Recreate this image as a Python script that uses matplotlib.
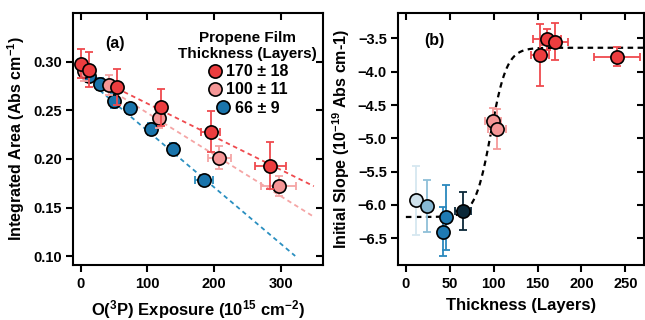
import numpy as np
import matplotlib
matplotlib.use("Agg")
import matplotlib.pyplot as plt

plt.rcParams['font.family'] = ['Liberation Sans', 'DejaVu Sans']
plt.rcParams['font.weight'] = 'bold'
plt.rcParams['mathtext.default'] = 'regular'

# panel (a): integrated area vs O(3P) exposure
red_x = [0, 12.5, 54.6, 120, 195, 284.6]
red_y = [0.298, 0.292, 0.274, 0.253, 0.228, 0.193]
red_xerr = [0, 0, 0, 3, 14, 23]
red_yerr = [0.015, 0.018, 0.019, 0.019, 0.021, 0.024]

pink_x = [4, 42, 117.7, 208, 297]
pink_y = [0.290, 0.276, 0.242, 0.2015, 0.172]
pink_xerr = [0, 4, 4, 17, 26]
pink_yerr = [0.010, 0.010, 0.010, 0.012, 0.010]

blue_x = [12.5, 28.6, 50, 73.7, 106, 139, 185]
blue_y = [0.285, 0.277, 0.260, 0.252, 0.231, 0.2105, 0.1786]
blue_xerr = [0, 2, 2, 3, 5, 8, 14]
blue_yerr = [0.006, 0.006, 0.008, 0.006, 0.006, 0.006, 0.005]

# linear fits (intercept, slope, x end)
red_fit = (0.291, -3.4e-4, 350)
pink_fit = (0.290, -4.27e-4, 350)
blue_fit = (0.287, -5.8e-4, 322)

# panel (b): initial slope vs thickness
b_x = [11.7, 23.9, 42, 45.8, 65.5, 99.6, 104, 152.6, 161, 170, 240.5]
b_y = [-5.93, -6.01, -6.40, -6.185, -6.09, -4.74, -4.86, -3.75, -3.515, -3.55, -3.775]
b_xerr = [0, 0, 0, 0, 9, 9, 10, 10, 16, 15, 26]
b_yerr = [0.52, 0.39, 0.37, 0.49, 0.29, 0.2, 0.3, 0.47, 0.16, 0.28, 0.14]
b_fill = ['#cfe2ec', '#86b8d4', '#1f7ab2', '#1f7ab2', '#0b2838',
          '#f59696', '#f59696', '#ec3d3f', '#ec3d3f', '#ec3d3f', '#ec3d3f']
b_bar = ['#d6e7f0', '#8fbfd8', '#2a88bd', '#2a88bd', '#0b2838',
         '#f49a9a', '#f49a9a', '#ef4a4e', '#ef4a4e', '#ef4a4e', '#ef4a4e']

# sigmoid fit: low, high, midpoint, width
sig_low, sig_high, sig_x0, sig_w = -6.18, -3.64, 97, 9

RED, RED_BAR = '#ec3d3f', '#ef4a4e'
PINK, PINK_BAR = '#f59696', '#f5a5a5'
BLUE, BLUE_BAR = '#1a74ab', '#2a8fc0'

fig = plt.figure(figsize=(6.45, 3.2), dpi=100)
ax1 = fig.add_axes([0.113, 0.172, 0.388, 0.787])
ax2 = fig.add_axes([0.617, 0.172, 0.381, 0.787])


def style(ax):
    for s in ax.spines.values():
        s.set_linewidth(1.5)
    ax.tick_params(which='both', length=5, width=1.5, labelsize=10.5, pad=3,
                   top=True, right=True, labeltop=False, labelright=False)
    ax.tick_params(axis='x', direction='out', pad=4)
    ax.tick_params(axis='y', direction='out')
    # mirror ticks on top/right point inward
    for t in ax.xaxis.get_major_ticks():
        t.tick2line.set_marker(matplotlib.lines.TICKDOWN)
    for t in ax.yaxis.get_major_ticks():
        t.tick2line.set_marker(matplotlib.lines.TICKLEFT)


ms = 9.5
ekw = dict(fmt='none', capsize=3, elinewidth=1.3, capthick=1.3)

for (b0, b1, xe), col in [(blue_fit, BLUE_BAR), (pink_fit, PINK_BAR), (red_fit, RED_BAR)]:
    xx = np.linspace(10, xe, 50)
    ax1.plot(xx, b0 + b1 * xx, ls=(0, (2.5, 2)), color=col, lw=1.3, zorder=1)

series = [(blue_x, blue_y, blue_xerr, blue_yerr, BLUE, BLUE_BAR, '66 ± 9'),
          (pink_x, pink_y, pink_xerr, pink_yerr, PINK, PINK_BAR, '100 ± 11'),
          (red_x, red_y, red_xerr, red_yerr, RED, RED_BAR, '170 ± 18')]
handles = {}
z = 2
for x, y, xe, ye, fc, bc, lab in series:
    ax1.errorbar(x, y, xerr=xe, yerr=ye, ecolor=bc, zorder=z, **ekw)
    h, = ax1.plot(x, y, 'o', ms=ms, mfc=fc, mec='black', mew=1.2, ls='none',
                  zorder=z + 1, label=lab)
    handles[lab] = h
    z += 2

ax1.set_xlim(-12, 364)
ax1.set_ylim(0.091, 0.350)
ax1.set_xticks([0, 100, 200, 300])
ax1.set_yticks([0.10, 0.15, 0.20, 0.25, 0.30])
ax1.set_yticklabels(['0.10', '0.15', '0.20', '0.25', '0.30'])
ax1.set_xlabel('O($^3$P) Exposure (10$^{15}$ cm$^{-2}$)', fontsize=12,
               fontweight='bold', labelpad=5)
ax1.set_ylabel('Integrated Area (Abs cm$^{-1}$)', fontsize=11.5,
               fontweight='bold', labelpad=4)
ax1.text(0.168, 0.88, '(a)', transform=ax1.transAxes, fontsize=11.5,
         fontweight='bold', ha='center', va='center')
leg = ax1.legend([handles['170 ± 18'], handles['100 ± 11'], handles['66 ± 9']],
                 ['170 ± 18', '100 ± 11', '66 ± 9'],
                 title='Propene Film\nThickness (Layers)', loc='upper right',
                 bbox_to_anchor=(1.0, 0.955), frameon=False, fontsize=11.5,
                 handletextpad=0.2, labelspacing=0.2, borderaxespad=0.2,
                 handlelength=1.0, borderpad=0.2)
leg.get_title().set_fontweight('bold')
leg.get_title().set_fontsize(11)
leg.get_title().set_multialignment('center')
for col in leg._legend_handle_box.get_children():
    col.align = 'center'
style(ax1)

# panel (b)
xx = np.linspace(0, 271, 300)
ax2.plot(xx, sig_low + (sig_high - sig_low) / (1 + np.exp(-(xx - sig_x0) / sig_w)),
         ls=(0, (2.5, 2)), color='black', lw=1.6, zorder=1)
for i in range(len(b_x)):
    ax2.errorbar(b_x[i], b_y[i], xerr=b_xerr[i] or None, yerr=b_yerr[i],
                 ecolor=b_bar[i], zorder=2, **ekw)
    ax2.plot(b_x[i], b_y[i], 'o', ms=ms, mfc=b_fill[i], mec='black', mew=1.2,
             zorder=3)
ax2.set_xlim(-9, 271)
ax2.set_ylim(-6.9, -3.12)
ax2.set_xticks([0, 50, 100, 150, 200, 250])
ax2.set_yticks([-6.5, -6.0, -5.5, -5.0, -4.5, -4.0, -3.5])
ax2.set_xlabel('Thickness (Layers)', fontsize=12, fontweight='bold', labelpad=5)
ax2.set_ylabel('Initial Slope (10$^{-19}$ Abs cm-1)', fontsize=11.5,
               fontweight='bold', labelpad=4)
ax2.text(0.15, 0.893, '(b)', transform=ax2.transAxes, fontsize=11.5,
         fontweight='bold', ha='center', va='center')
style(ax2)

fig.savefig('out.png', dpi=100)
